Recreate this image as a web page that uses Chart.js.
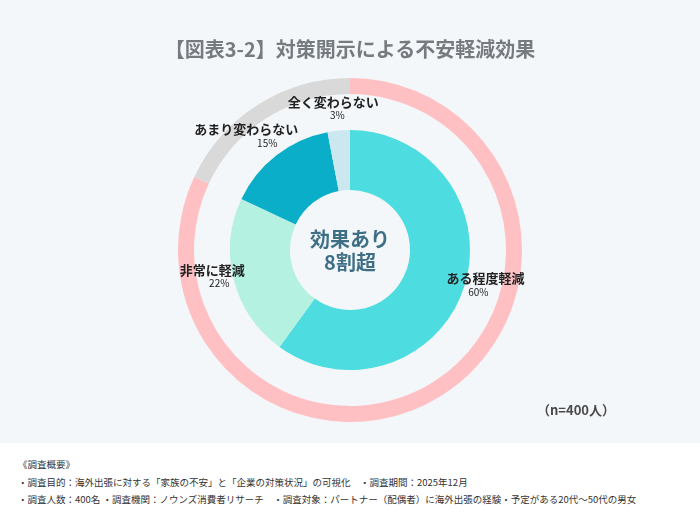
<!DOCTYPE html>
<html lang="ja">
<head>
<meta charset="utf-8">
<script src="https://cdn.jsdelivr.net/npm/chart.js@4/dist/chart.umd.min.js"></script>
<style>
  body { margin: 0; background: #ffffff; font-family: "Noto Sans CJK JP", "Noto Sans", sans-serif; }
  #wrap { position: relative; width: 700px; height: 443px; background: #f4f7f9; }
  #title { position: absolute; left: 0; top: 34px; width: 700px; text-align: center; font-size: 20px; font-weight: 700; color: #767b80; }
  #n { position: absolute; left: 537px; top: 400px; font-size: 13px; font-weight: 700; color: #4a4a4a; }
  #notes { padding: 13px 0 0 18px; font-size: 9.5px; color: #333; line-height: 17.5px; }
</style>
</head>
<body>
<div id="wrap">
  <canvas id="chart" width="700" height="443"></canvas>
  <div id="title">【図表3-2】対策開示による不安軽減効果</div>
  <div id="n">（n=400人）</div>
</div>
<div id="notes">
  <div>《調査概要》</div>
  <div>・調査目的：海外出張に対する「家族の不安」と「企業の対策状況」の可視化　・調査期間：2025年12月</div>
  <div>・調査人数：400名 ・調査機関：ノウンズ消費者リサーチ　・調査対象：パートナー（配偶者）に海外出張の経験・予定がある20代〜50代の男女</div>
</div>
<script>
// 回答の内訳（%）
const labels = ['ある程度軽減', '非常に軽減', 'あまり変わらない', '全く変わらない'];
const values = [60, 22, 15, 3];
const colors = ['#4ddce0', '#b4f1e1', '#0baec9', '#cbe8f1'];
// 外側の輪：効果あり / 効果なし
const outerValues = [82, 18];
const outerColors = ['#ffc0c4', '#d9d9d9'];
const centerText = ['効果あり', '8割超'];

// ラベルと中央テキストを描くプラグイン
const labelPlugin = {
    id: 'labelPlugin',
    afterDraw(chart, args, opts) {
        const ctx = chart.ctx;
        const meta = chart.getDatasetMeta(2);
        const cx = (chart.chartArea.left + chart.chartArea.right) / 2;
        const cy = (chart.chartArea.top + chart.chartArea.bottom) / 2;
        ctx.save();
        ctx.textAlign = 'center';
        ctx.textBaseline = 'middle';
        meta.data.forEach((arc, i) => {
            const mid = (arc.startAngle + arc.endAngle) / 2;
            // パーセントは中点方向、名前はその少し上
            const x = cx + Math.cos(mid) * opts.radius;
            const y = cy + Math.sin(mid) * opts.radius;
            ctx.fillStyle = '#222';
            ctx.font = '10px "Noto Sans CJK JP"';
            ctx.fillText(values[i] + '%', x, y);
            ctx.font = 'bold 13px "Noto Sans CJK JP"';
            ctx.fillText(labels[i], x + opts.nudge[i], y - 14);
        });
        ctx.fillStyle = '#3f6f86';
        ctx.font = 'bold 20px "Noto Sans CJK JP"';
        ctx.fillText(centerText[0], cx, cy - 11);
        ctx.fillText(centerText[1], cx, cy + 12);
        ctx.restore();
    }
};

const ctx = document.getElementById('chart').getContext('2d');
new Chart(ctx, {
    type: 'doughnut',
    data: {
        labels: labels,
        datasets: [
            { data: outerValues, backgroundColor: outerColors, borderWidth: 0, weight: 16 },
            { data: [100], backgroundColor: 'rgba(0,0,0,0)', borderWidth: 0, weight: 36 },
            { data: values, backgroundColor: colors, borderWidth: 0, weight: 60 }
        ]
    },
    options: {
        responsive: false,
        animation: false,
        cutout: 60,
        layout: { padding: { top: 78, bottom: 21, left: 20, right: 20 } },
        plugins: {
            legend: { display: false },
            tooltip: { enabled: false },
            labelPlugin: { radius: 135, nudge: [7, -7, -21, -4] }
        }
    },
    plugins: [labelPlugin]
});
</script>
</body>
</html>
